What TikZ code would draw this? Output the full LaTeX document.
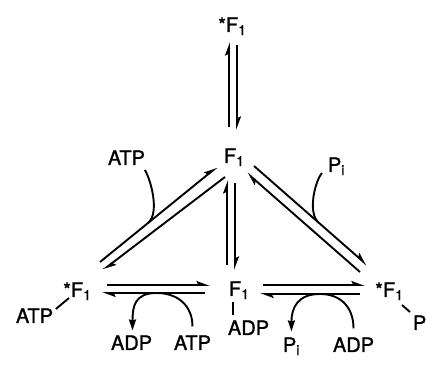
\documentclass[tikz,border=0pt]{standalone}
\usepackage{fontspec}
\setmainfont[FakeBold=1.2]{TeX Gyre Heros}
\usetikzlibrary{arrows.meta,calc}

\begin{document}
\begin{tikzpicture}[x=1pt,y=-1pt,line width=1.9pt,
  spec/.style={inner sep=0pt,anchor=base west,font=\fontsize{20}{24}\selectfont},
  half/.style={-{Stealth[harpoon,length=11pt,width=8pt,inset=2pt]}},
  curl/.style={-{Stealth[length=11pt,width=7pt,inset=1pt]}}]
  \useasboundingbox (0,0) rectangle (426,371);
  \node[spec] (Ftop) at (225,32) {\llap{*}F\textsubscript{1}};
  \node[spec] (Fmid) at (223,163) {F\textsubscript{1}};
  \node[spec] (Fbot) at (228,296) {F\textsubscript{1}};
  \node[spec] (Fl) at (70,297) {\llap{*}F\textsubscript{1}};
  \node[spec] (Fr) at (382,297) {\llap{*}F\textsubscript{1}};
  \node[spec] (ATPu) at (107,165) {ATP};
  \node[spec] (Piu) at (327,172) {P\textsubscript{i}};
  \node[spec] (ATPl) at (15,323) {ATP};
  \node[spec] (ADPc) at (227,335) {ADP};
  \node[spec] (Pr) at (412,330) {P};
  \node[spec] (ADPl) at (110,350) {ADP};
  \node[spec] (ATPb) at (173,350) {ATP};
  \node[spec] (Pib) at (282,352) {P\textsubscript{i}};
  \node[spec] (ADPr) at (332,352) {ADP};
  \draw[half] ($(Fmid.base west)+(6,-36)$) -- ($(Ftop.base west)+(4,10)$);
  \draw[half] ($(Ftop.base west)+(12,13)$) -- ($(Fmid.base west)+(14,-33)$);
  \draw[half] ($(Fbot.base west)+(-1,-31)$) -- ($(Fmid.base west)+(4,17)$);
  \draw[half] ($(Fmid.base west)+(12,20)$) -- ($(Fbot.base west)+(7,-26)$);
  \draw[half] ($(Fl.base west)+(30,-35)$) -- coordinate[pos=0.41] (jATP) ($(Fmid.base west)+(-6,4)$);
  \draw[half] ($(Fmid.base west)+(2,14)$) -- ($(Fl.base west)+(33,-27)$);
  \draw[half] ($(Fmid.base west)+(31,3)$) -- coordinate[pos=0.57] (jPi) ($(Fr.base west)+(-15,-32)$);
  \draw[half] ($(Fr.base west)+(-22,-25)$) -- ($(Fmid.base west)+(24,10)$);
  \draw[half] ($(Fl.base west)+(37,-12)$) -- ($(Fbot.base west)+(-18,-11)$);
  \draw[half] ($(Fbot.base west)+(-23,-3)$) -- coordinate[pos=0.47] (jL) ($(Fl.base west)+(32,-4)$);
  \draw[half] ($(Fbot.base west)+(35,-11)$) -- ($(Fr.base west)+(-17,-12)$);
  \draw[half] ($(Fr.base west)+(-22,-3)$) -- coordinate[pos=0.4] (jR) ($(Fbot.base west)+(32,-2)$);
  \draw ($(ATPu.base east)+(-1,5)$) .. controls +(6,10) and +(12,-10) .. (jATP);
  \draw ($(Piu.base west)+(-5,1)$) .. controls +(-7,8) and +(-11,-10) .. (jPi);
  \draw[curl] ($(ATPb.north)+(0,-8)$) .. controls +(0,-22) and +(20,0) .. (jL)
    .. controls +(-22,0) and +(0,-24) .. ($(ADPl.north)+(1,-4)$);
  \draw[curl] ($(ADPr.north)+(0,-8)$) .. controls +(0,-22) and +(20,0) .. (jR)
    .. controls +(-22,0) and +(0,-24) .. ($(Pib.north)+(0,-5)$);
  \draw ($(ATPl.base east)+(2,-14)$) -- ($(Fl.base west)+(-1,1)$);
  \draw ($(Fbot.base west)+(5,6)$) -- ($(ADPc.base west)+(6,-20)$);
  \draw ($(Fr.base west)+(20,8)$) -- ($(Pr.base west)+(-2,-18)$);
\end{tikzpicture}
\end{document}
